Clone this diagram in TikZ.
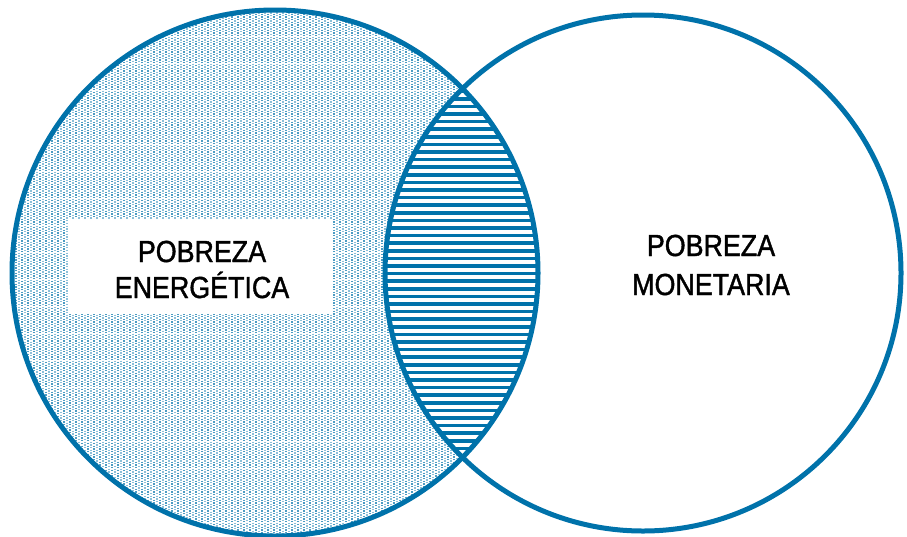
\documentclass[tikz,border=0pt]{standalone}
\usepackage{fontspec}
\setmainfont{Liberation Sans}[FakeStretch=0.88,FakeBold=1.3]
\definecolor{vblue}{RGB}{0,114,170}
\tikzset{
  outline/.style={draw=vblue, line width=5pt},
  dotcol/.style={draw=vblue!70, line width=1.3pt, dash pattern=on 1.3pt off 1.4pt},
  dotcolb/.style={draw=vblue!45, line width=1.3pt, dash pattern=on 1.3pt off 1.4pt, dash phase=1.3pt},
  stripe/.style={draw=vblue, line width=3.6pt},
  label/.style={font=\fontsize{30.5pt}{36pt}\selectfont, text=black, anchor=base, inner sep=0pt},
}
\begin{document}
\begin{tikzpicture}[x=1pt,y=-1pt]
\useasboundingbox (0,0) rectangle (907,536);
\coordinate (cl) at (275,273);
\coordinate (cr) at (643,273);
% left circle texture
\begin{scope}
  \clip (cl) circle[radius=263pt];
  \foreach \x in {10,16,...,544} {
    \draw[dotcol] (\x,0) -- (\x,536);
    \draw[dotcolb] (\x+3,0) -- (\x+3,536);
  }
\end{scope}
% lens
\begin{scope}
  \clip (cl) circle[radius=263pt];
  \clip (cr) circle[radius=258pt];
  \fill[white] (0,0) rectangle (907,536);
  \foreach \y in {0,7.6,...,536} {
    \draw[stripe] (370,\y) -- (560,\y);
  }
\end{scope}
% white label box
\fill[white] (68,219) rectangle (332,314);
% outlines
\draw[outline] (cl) circle[radius=263pt];
\draw[outline] (cr) circle[radius=258pt];
% texts
\node[label] (pe1) at (202,262) {POBREZA};
\node[label] (pe2) at (202,298) {ENERGÉTICA};
\node[label] (pm1) at (711,256) {POBREZA};
\node[label] (pm2) at (711,295) {MONETARIA};
\end{tikzpicture}
\end{document}
